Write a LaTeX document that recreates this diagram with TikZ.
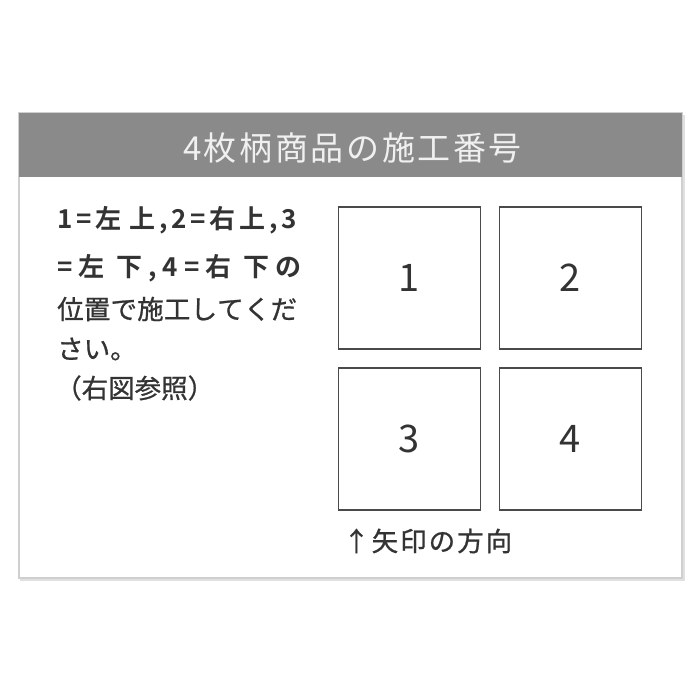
\documentclass[tikz,border=0pt]{standalone}
\usepackage{fontspec}
\setmainfont{Noto Sans CJK JP}
\newfontfamily\jpbold{Noto Sans CJK JP Bold}
\newfontfamily\jpmed[FakeBold=0.8]{Noto Sans CJK JP}
\definecolor{hdr}{HTML}{8A8A8A}
\definecolor{txt}{HTML}{333333}
\definecolor{boxc}{HTML}{4A4A4A}
\definecolor{outer}{HTML}{CFCFCF}
\newcommand\spreadbox[2]{\makebox[#1][s]{#2}}
\tikzset{
  cell/.style={draw=boxc, line width=1.9pt, minimum width=142pt, minimum height=142pt, inner sep=0pt, text=txt, font=\fontsize{38}{38}\selectfont},
  lefttxt/.style={anchor=west, inner sep=0pt, text=txt, font=\jpmed\fontsize{26.5}{26.5}\selectfont},
  boldtxt/.style={lefttxt, font=\jpbold\fontsize{26}{26}\selectfont},
}
\begin{document}
\begin{tikzpicture}[x=1pt,y=-1pt]
\useasboundingbox (0,0) rectangle (700,700);
\fill[white] (0,0) rectangle (700,700);
% outer frame with slight shadow
\draw[black!12, line width=2pt] (21,116) rectangle (684,580);
\draw[outer, line width=1.5pt, fill=white] (19,113) rectangle (682,578);
\fill[hdr] (19,113) rectangle (682,177);
\node[text=white!94!black, font=\fontsize{33}{33}\selectfont, inner sep=0pt] (title) at (352.5,148)
  {\spreadbox{339pt}{4\hfil 枚\hfil 柄\hfil 商\hfil 品\hfil の\hfil 施\hfil 工\hfil 番\hfil 号}};
% left text
\node[boldtxt] (l1) at (57,220) {\spreadbox{240pt}{1\hfil =\hfil 左\hfil\hfil 上\hfil ,\hfil 2\hfil =\hfil 右\hfil 上\hfil ,\hfil 3}};
\node[boldtxt] (l2) at (57,268) {\spreadbox{244pt}{=\hfil 左\hfil\hfil 下\hfil ,\hfil 4\hfil =\hfil 右\hfil\hfil 下\hfil の}};
\node[lefttxt] (l3) at (57,309) {\spreadbox{240pt}{位\hfil 置\hfil で\hfil 施\hfil 工\hfil し\hfil て\hfil く\hfil だ}};
\node[lefttxt] (l4) at (57,349) {さい。};
\node[lefttxt] (l5) at (55,388) {（右図参照）};
% cells
\node[cell] (c1) at (409.5,278) {1};
\node[cell] (c2) at (570.5,278) {2};
\node[cell] (c3) at (409.5,439) {3};
\node[cell] (c4) at (570.5,439) {4};
% caption
\node[lefttxt] (cap) at (343,541) {\spreadbox{169pt}{↑\hfil 矢\hfil 印\hfil の\hfil 方\hfil 向}};
\end{tikzpicture}
\end{document}
